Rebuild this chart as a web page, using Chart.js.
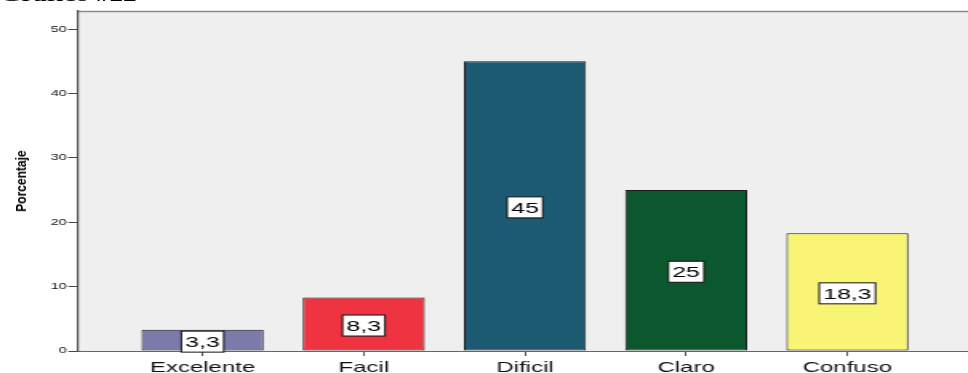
<!DOCTYPE html>
<html>
<head>
<meta charset="utf-8">
<script src="https://cdn.jsdelivr.net/npm/chart.js@4/dist/chart.umd.min.js"></script>
<style>
  html, body { margin: 0; padding: 0; background: #fff; overflow: hidden; width: 968px; height: 373px; }
  #stage { position: absolute; left: 0; top: 0; transform: scaleX(1.6); transform-origin: 0 0; }
  #heading { position: absolute; left: 0; top: -13.5px; font: bold 17px 'Liberation Serif', 'DejaVu Serif', serif; line-height: 17px; color: #000; white-space: nowrap; }
  #ytitle { position: absolute; left: 21px; top: 181px; transform: translate(-50%, -50%) rotate(-90deg) scaleX(0.86); font: bold 14px 'Liberation Sans', Arial, sans-serif; color: #000; white-space: nowrap; }
</style>
</head>
<body>
<div id="stage">
  <div id="heading">Gráfico #22</div>
  <canvas id="chart" width="610" height="373"></canvas>
</div>
<div id="ytitle">Porcentaje</div>
<script>
// Survey answers and their share of respondents (%)
const categories = ['Excelente', 'Facil', 'Dificil', 'Claro', 'Confuso'];
const percentages = [3.3, 8.3, 45, 25, 18.3];
const yTickValues = [0, 10, 20, 30, 40, 50];

const barColors = ['#7c7aab', '#ef3340', '#1c5b73', '#0b582e', '#faf474'];
const FONT = "'Liberation Sans', Arial, sans-serif";

// Comma as decimal separator
const fmt = v => String(v).replace('.', ',');

// Grey plot panel with a thin frame line along the top
const panel = {
  id: 'panel',
  beforeDraw(chart) {
    const { ctx, chartArea: a } = chart;
    ctx.save();
    ctx.fillStyle = '#efefef';
    ctx.fillRect(a.left, a.top, a.right - a.left, a.bottom - a.top);
    ctx.strokeStyle = '#8c8c8c';
    ctx.lineWidth = 1.5;
    ctx.beginPath();
    ctx.moveTo(a.left, a.top + 0.5);
    ctx.lineTo(a.right, a.top + 0.5);
    ctx.stroke();
    ctx.restore();
  }
};

// Boxed value label in the middle of each bar
const valueBoxes = {
  id: 'valueBoxes',
  afterDatasetsDraw(chart) {
    const { ctx } = chart;
    const meta = chart.getDatasetMeta(0);
    ctx.save();
    ctx.font = '15.5px ' + FONT;
    ctx.textAlign = 'center';
    ctx.textBaseline = 'middle';
    meta.data.forEach((bar, i) => {
      const text = fmt(chart.data.datasets[0].data[i].y);
      const w = ctx.measureText(text).width + 5;
      const h = 21;
      const cx = bar.x;
      const cy = (bar.y + bar.base) / 2 + 1.5;
      ctx.fillStyle = '#fff';
      ctx.fillRect(cx - w / 2, cy - h / 2, w, h);
      ctx.strokeStyle = '#111';
      ctx.lineWidth = 1;
      ctx.strokeRect(cx - w / 2, cy - h / 2, w, h);
      ctx.fillStyle = '#000';
      ctx.fillText(text, cx, cy + 1);
    });
    ctx.restore();
  }
};

new Chart(document.getElementById('chart'), {
  type: 'bar',
  data: {
    datasets: [{
      data: percentages.map((v, i) => ({ x: i, y: v })),
      backgroundColor: barColors,
      borderColor: '#1a1a1a',
      borderWidth: 1,
      borderSkipped: false,
      categoryPercentage: 1,
      barPercentage: 0.757
    }]
  },
  options: {
    responsive: false,
    animation: false,
    devicePixelRatio: 1,
    layout: { padding: { top: 11, right: 2.5, left: 0, bottom: 0 } },
    plugins: { legend: { display: false }, tooltip: { enabled: false } },
    scales: {
      x: {
        type: 'linear',
        offset: false,
        min: -0.773,
        max: 4.773,
        afterBuildTicks: s => { s.ticks = categories.map((c, i) => ({ value: i })); },
        afterFit: s => { s.height = 22; },
        ticks: {
          autoSkip: false,
          maxRotation: 0,
          padding: 3,
          color: '#111',
          font: { family: FONT, size: 15 },
          callback: v => categories[v] ?? ''
        },
        grid: { offset: false, drawOnChartArea: false, drawTicks: true, tickLength: 5, color: '#555', lineWidth: 1 },
        border: { display: true, color: '#666', width: 1 }
      },
      y: {
        min: 0,
        max: 52.8,
        afterBuildTicks: s => { s.ticks = yTickValues.map(v => ({ value: v })); },
        afterFit: s => { s.width = 48.75; },
        ticks: {
          padding: 1,
          color: '#111',
          font: { family: FONT, size: 9 },
          callback: v => String(v)
        },
        grid: { drawOnChartArea: false, drawTicks: true, tickLength: 6, color: '#444', lineWidth: 1 },
        border: { display: true, color: '#555', width: 1.25 }
      }
    }
  },
  plugins: [panel, valueBoxes]
});
</script>
</body>
</html>
